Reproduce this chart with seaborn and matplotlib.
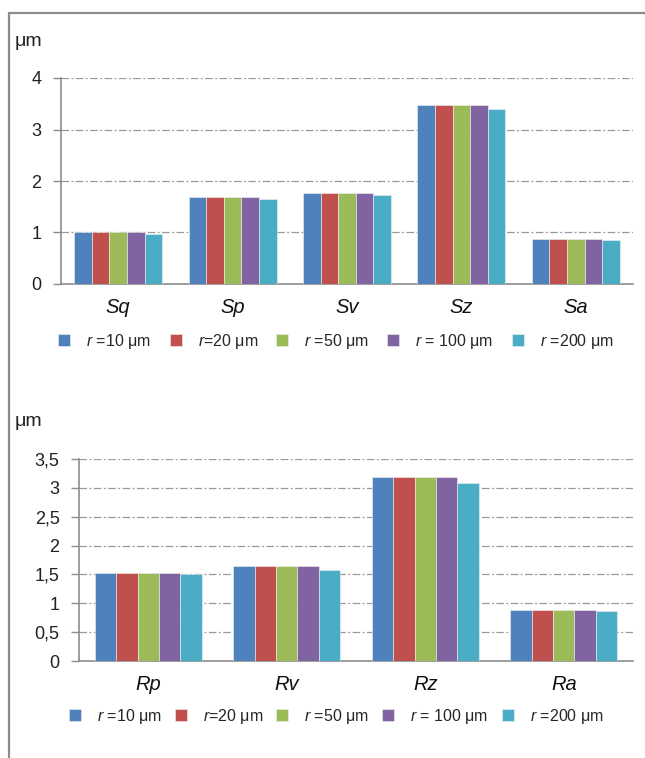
import matplotlib
matplotlib.use("Agg")
import matplotlib.pyplot as plt
from matplotlib.lines import Line2D
import seaborn as sns
import pandas as pd

# Areal (S) and profile (R) roughness parameters for several filter radii
radii = ["$r$ =10 μm", "$r$=20 μm", "$r$ =50 μm", "$r$ = 100 μm", "$r$ =200 μm"]
colors = ["#4F81BD", "#C0504D", "#9BBB59", "#8064A2", "#4BACC6"]

s_params = ["Sq", "Sp", "Sv", "Sz", "Sa"]
s_r10 = [1.00, 1.68, 1.77, 3.48, 0.88]
s_r20 = [1.00, 1.68, 1.77, 3.48, 0.88]
s_r50 = [1.00, 1.68, 1.77, 3.48, 0.88]
s_r100 = [1.00, 1.68, 1.77, 3.48, 0.88]
s_r200 = [0.98, 1.66, 1.73, 3.39, 0.86]

r_params = ["Rp", "Rv", "Rz", "Ra"]
r_r10 = [1.53, 1.65, 3.18, 0.88]
r_r20 = [1.53, 1.65, 3.18, 0.88]
r_r50 = [1.53, 1.65, 3.18, 0.88]
r_r100 = [1.53, 1.65, 3.18, 0.88]
r_r200 = [1.51, 1.57, 3.09, 0.87]

sns.set_theme(style="white")
plt.rcParams["font.family"] = ["Liberation Sans", "DejaVu Sans"]
plt.rcParams["mathtext.fontset"] = "custom"
plt.rcParams["mathtext.it"] = "Liberation Sans:italic"
plt.rcParams["mathtext.rm"] = "Liberation Sans"


def long_table(params, series):
    rows = []
    for label, vals in zip(radii, series):
        for p, v in zip(params, vals):
            rows.append({"param": p, "radius": label, "value": v})
    return pd.DataFrame(rows)


W, H = 645, 758
fig = plt.figure(figsize=(W / 100, H / 100), dpi=100)

# outer frame (left and top edges visible)
fig.add_artist(Line2D([8.5 / W, 8.5 / W], [-0.01, 1 - 13 / H], transform=fig.transFigure,
                      color="#8c8c8c", lw=1.6))
fig.add_artist(Line2D([8.5 / W, 1.02], [1 - 13 / H, 1 - 13 / H], transform=fig.transFigure,
                      color="#8c8c8c", lw=1.6))


def draw_panel(rect, params, series, ymax, ystep, fmt, legend_xy, unit_y, colsp):
    ax = fig.add_axes(rect)
    df = long_table(params, series)
    sns.barplot(data=df, x="param", y="value", hue="radius", hue_order=radii,
                palette=colors, width=0.77, gap=0, saturation=1, errorbar=None,
                edgecolor="#f2f2f2", linewidth=0.4, ax=ax, zorder=3)
    n = len(params)
    ax.set_xlim(-0.5, n - 0.5)
    ax.set_ylim(0, ymax)
    ticks = [i * ystep for i in range(int(round(ymax / ystep)) + 1)]
    ax.set_yticks(ticks)
    ax.set_yticklabels([fmt(t) for t in ticks], fontsize=13, color="#222222")
    ax.set_xticks(range(n))
    ax.set_xticklabels(params, fontsize=14.5, style="italic", color="#111111")
    ax.set_xticks([i - 0.5 for i in range(n + 1)], minor=True)
    ax.tick_params(axis="x", which="major", length=0, pad=10)
    ax.tick_params(axis="x", which="minor", length=6, width=1, color="#8c8c8c")
    ax.tick_params(axis="y", length=6, width=1, color="#8c8c8c", pad=8, left=True)
    ax.set_xlabel("")
    ax.set_ylabel("")
    for t in ticks[1:]:
        ax.axhline(t, color="#999999", lw=0.9, ls=(0, (6, 2, 1.5, 2)), zorder=1)
    for side in ["top", "right"]:
        ax.spines[side].set_visible(False)
    for side in ["left", "bottom"]:
        ax.spines[side].set_color("#8c8c8c")
        ax.spines[side].set_linewidth(1.2)
    handles, labels = ax.get_legend_handles_labels()
    ax.get_legend().remove()
    fig.legend(handles, labels, loc="center",
               bbox_to_anchor=(legend_xy[0] / W, 1 - legend_xy[1] / H),
               ncol=5, frameon=False, fontsize=11.5, handlelength=0.75, handleheight=0.75,
               handletextpad=1.0, columnspacing=colsp)
    fig.text(15 / W, 1 - unit_y / H, "μm", fontsize=14, ha="left", va="center", color="#222222")
    return ax


draw_panel([61 / W, 1 - 284 / H, (633 - 61) / W, (284 - 78) / H], s_params,
           [s_r10, s_r20, s_r50, s_r100, s_r200], 4, 1, lambda t: f"{t:g}",
           (336, 341), 42, 1.15)
draw_panel([79 / W, 1 - 661 / H, (633 - 79) / W, (661 - 459) / H], r_params,
           [r_r10, r_r20, r_r50, r_r100, r_r200], 3.5, 0.5,
           lambda t: f"{t:g}".replace(".", ","), (336, 716), 422, 0.83)

fig.savefig("out.png", dpi=100)
